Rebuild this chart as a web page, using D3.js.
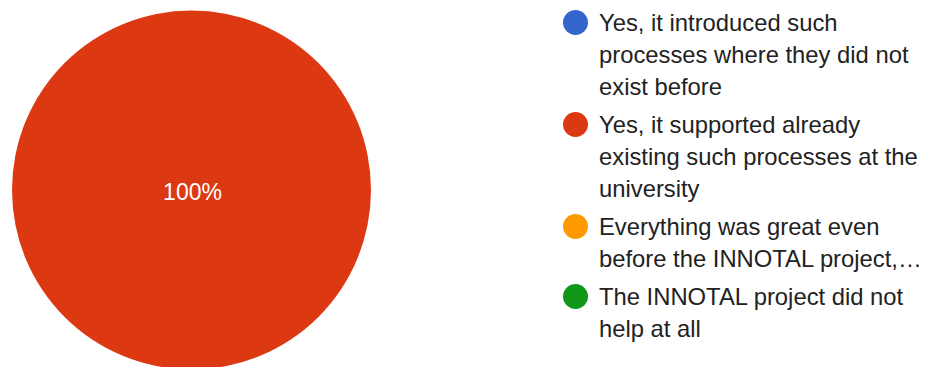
<!DOCTYPE html>
<html>
<head>
<meta charset="utf-8">
<script src="https://cdn.jsdelivr.net/npm/d3@7"></script>
<style>
  body { margin: 0; background: #fff; }
  svg { display: block; font-family: "Liberation Sans", Arial, sans-serif; }
</style>
</head>
<body>
<div id="chart"></div>
<script>
// answers (legend text, already wrapped as shown)
var categories = [
    ["Yes, it introduced such", "processes where they did not", "exist before"],
    ["Yes, it supported already", "existing such processes at the", "university"],
    ["Everything was great even", "before the INNOTAL project,\u2026"],
    ["The INNOTAL project did not", "help at all"]
];
var counts = [0, 1, 0, 0];
var colors = ["#3366cc", "#dc3912", "#ff9900", "#109618"];

var width = 925, height = 367;

var svg = d3.select("#chart")
    .append("svg")
    .attr("width", width)
    .attr("height", height);

var radius = 179.5;
var cx = 191.5, cy = 190;

var pie = d3.pie().sort(null).value(d => d);
var arc = d3.arc().innerRadius(0).outerRadius(radius);
var total = d3.sum(counts);

var g = svg.append("g")
    .attr("transform", "translate(" + cx + "," + cy + ")");

var slices = pie(counts).filter(d => d.value > 0);

g.selectAll("path")
    .data(slices)
    .enter().append("path")
    .attr("d", arc)
    .attr("fill", d => colors[d.index]);

g.selectAll(".pct")
    .data(slices)
    .enter().append("text")
    .attr("class", "pct")
    .attr("transform", function(d) {
        // full circle: label sits in the middle
        if (d.endAngle - d.startAngle >= 2 * Math.PI - 1e-6) return "translate(0,0)";
        return "translate(" + d3.arc().innerRadius(radius * 0.6).outerRadius(radius * 0.6).centroid(d) + ")";
    })
    .attr("dy", "0.35em")
    .attr("x", 1)
    .attr("y", 2)
    .attr("text-anchor", "middle")
    .attr("fill", "#ffffff")
    .style("font-size", "23px")
    .text(d => d3.format(".0%")(d.value / total));

// legend
var lineH = 32, groupGap = 6;
var legendX = 575.5, textX = 599, y0 = 22.5;
var legend = svg.append("g");
var y = y0;
for (var i = 0; i < categories.length; i++) {
    var item = legend.append("g").attr("transform", "translate(0," + y + ")");
    item.append("circle")
        .attr("cx", legendX)
        .attr("cy", 0)
        .attr("r", 12.5)
        .attr("fill", colors[i]);
    var t = item.append("text")
        .attr("x", textX)
        .attr("fill", "#222222")
        .style("font-size", "23.8px");
    categories[i].forEach(function(line, k) {
        t.append("tspan")
            .attr("x", textX)
            .attr("y", k * lineH)
            .attr("dy", "0.35em")
            .text(line);
    });
    y += categories[i].length * lineH + groupGap;
}
</script>
</body>
</html>
